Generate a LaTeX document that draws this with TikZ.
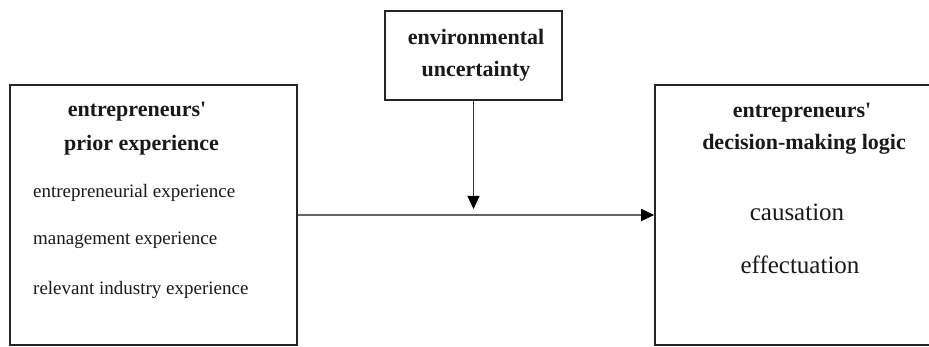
\documentclass[tikz,border=0pt]{standalone}
\usepackage{fontspec}
\setmainfont{Liberation Serif}
\usetikzlibrary{arrows.meta}
\tikzset{
  box/.style={draw=black!85, line width=1.6pt, fill=none, inner sep=0pt},
  conn/.style={draw=black!60, line width=1.2pt, -{Triangle[length=13pt,width=12pt,fill=black,color=black]}},
  head/.style={anchor=base, inner sep=0pt, text=black!90, font=\fontsize{22}{26}\selectfont\bfseries},
  item/.style={anchor=base west, inner sep=0pt, text=black!90, font=\fontsize{19}{23}\selectfont},
  big/.style={anchor=base, inner sep=0pt, text=black!90, font=\fontsize{25}{30}\selectfont}
}
\begin{document}
\begin{tikzpicture}[x=1pt,y=-1pt]
\useasboundingbox (0,0) rectangle (929,347);
\clip (0,0) rectangle (929,347);
% boxes
\node[box, minimum width=287pt, minimum height=260pt] (L) at (153.5,215) {};
\node[box, minimum width=290pt, minimum height=260pt] (R) at (800,215) {};
\node[box, minimum width=177pt, minimum height=89pt] (T) at (473.5,55.5) {};
% texts left
\node[head] (l1) at (137,117) {entrepreneurs\textquotesingle};
\node[head] (l2) at (141.5,151) {prior experience};
\node[item] (i1) at (33,198) {entrepreneurial experience};
\node[item] (i2) at (33,245) {management experience};
\node[item] (i3) at (33,295) {relevant industry experience};
% texts right
\node[head] (r1) at (802,118) {entrepreneurs\textquotesingle};
\node[head] (r2) at (804,150) {decision-making logic};
\node[big] (r3) at (797,221) {causation};
\node[big] (r4) at (800,274) {effectuation};
% texts top
\node[head] (t1) at (476,45) {environmental};
\node[head] (t2) at (476,77) {uncertainty};
% connectors
\coordinate (J) at (T.south |- L.east);
\draw[conn] (L.east) -- (R.west);
\draw[conn, draw=black!80, shorten >=6pt] (T.south) -- (J);
\end{tikzpicture}
\end{document}
